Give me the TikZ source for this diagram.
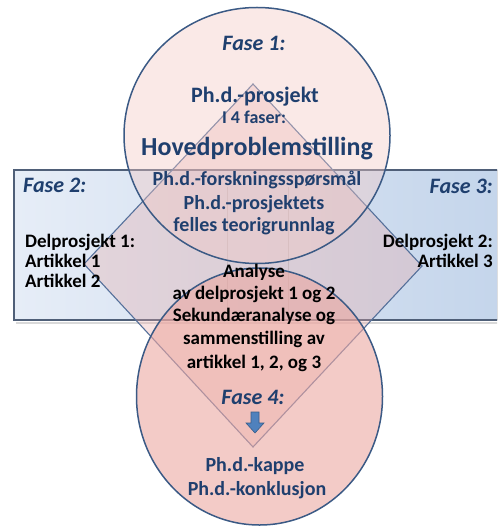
\documentclass[tikz,border=0pt]{standalone}
\usepackage{fontspec}
\setmainfont{Carlito}
\definecolor{dblue}{HTML}{1F3F6E}
\definecolor{rectL}{HTML}{E6EDF7}
\definecolor{rectR}{HTML}{C4D5EB}
\definecolor{rectline}{HTML}{4F5F78}
\definecolor{circline}{HTML}{3B5A85}
\definecolor{diamline}{HTML}{55709A}
\definecolor{pinkA}{HTML}{F2C8C4}
\definecolor{pinkB}{HTML}{EBA8A2}
\definecolor{pinkD}{HTML}{E8A8A4}
\definecolor{arrowfill}{HTML}{4F81BD}
\definecolor{arrowline}{HTML}{385D8A}
\tikzset{
  bluet/.style={font=\bfseries\fontsize{20}{24}\selectfont, text=dblue, inner sep=0pt, anchor=base},
  fase/.style={font=\bfseries\itshape\fontsize{22}{26}\selectfont, text=dblue, inner sep=0pt, anchor=base},
  blk/.style={font=\bfseries\fontsize{19}{22}\selectfont, text=black, inner sep=0pt, anchor=base},
  circ/.style={draw=circline, line width=1.5pt},
}
\begin{document}
\begin{tikzpicture}[x=1pt,y=-1pt]
\useasboundingbox (0,0) rectangle (497,526);
% rectangle (phases 2 and 3)
\begin{scope}
\clip (0,0) rectangle (497,526);
\fill[left color=rectL, right color=rectR] (14,170) rectangle (505,320);
\draw[black, opacity=0.15, line width=2pt] (16,322.5) -- (505,322.5);
\draw[rectline, line width=2pt] (505,170) -- (14,170) -- (14,320) -- (505,320);
\end{scope}
% faint vertical lines
\draw[gray, opacity=0.3, line width=0.8pt] (227,187) -- (227,313);
\draw[gray, opacity=0.3, line width=0.8pt] (288,187) -- (288,313);
% diamond
\coordinate (dt) at (253,84);
\coordinate (dr) at (422,266);
\coordinate (db) at (253,447);
\coordinate (dl) at (84,264);
\filldraw[fill=pinkD, fill opacity=0.32, draw=diamline, line width=1.1pt] (dt) -- (dr) -- (db) -- (dl) -- cycle;
% circles
\filldraw[circ, fill=pinkA, fill opacity=0.4] (257,135.5) ellipse [x radius=133pt, y radius=128pt];
\filldraw[circ, fill=pinkB, fill opacity=0.6] (259.5,396.5) ellipse [x radius=123pt, y radius=128.5pt];
% arrow
\filldraw[fill=arrowfill, draw=arrowline, line width=0.6pt]
  (251,412) -- (259,412) -- (259,423) -- (264,423) -- (255,433) -- (246,423) -- (251,423) -- cycle;
% texts phase 1
\node[fase] (f1) at (254,51) {Fase 1:};
\node[bluet, font=\bfseries\fontsize{22}{26}\selectfont] (p1) at (255,103) {Ph.d.-prosjekt};
\node[bluet, font=\bfseries\fontsize{18}{21}\selectfont] (p2) at (254,124) {I 4 faser:};
\node[bluet, font=\bfseries\fontsize{26}{30}\selectfont] (p3) at (257,156) {Hovedproblemstilling};
\node[bluet] (p4) at (257,186) {Ph.d.-forskningsspørsmål};
\node[bluet] (p5) at (254,210) {Ph.d.-prosjektets};
\node[bluet] (p6) at (254,232) {felles teorigrunnlag};
% phase 2
\node[fase, anchor=base west] (f2) at (23,193) {Fase 2:};
\node[blk, anchor=base west] (l1) at (25,247) {Delprosjekt 1:};
\node[blk, anchor=base west] (l2) at (25,267) {Artikkel 1};
\node[blk, anchor=base west] (l3) at (25,287) {Artikkel 2};
% phase 3
\node[fase, anchor=base east] (f3) at (493,194) {Fase 3:};
\node[blk, anchor=base east] (r1) at (493,247) {Delprosjekt 2:};
\node[blk, anchor=base east] (r2) at (493,267) {Artikkel 3};
% centre
\node[blk] (c1) at (254,277) {Analyse};
\node[blk] (c2) at (254,299) {av delprosjekt 1 og 2};
\node[blk] (c3) at (254,321) {Sekundæranalyse og};
\node[blk] (c4) at (254,344) {sammenstilling av};
\node[blk] (c5) at (254,368) {artikkel 1, 2, og 3};
% phase 4
\node[fase] (f4) at (253,404) {Fase 4:};
\node[bluet] (k1) at (255,471) {Ph.d.-kappe};
\node[bluet] (k2) at (257,495) {Ph.d.-konklusjon};
\end{tikzpicture}
\end{document}
